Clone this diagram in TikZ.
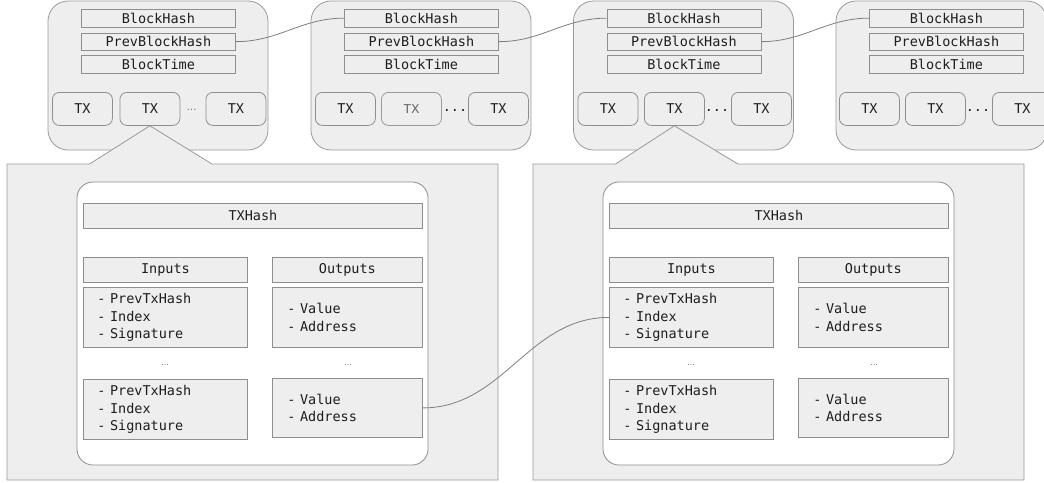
\documentclass[tikz,border=0pt]{standalone}
\usepackage{fontspec}
\newfontfamily\monof{DejaVu Sans Mono}
\newfontfamily\courf{Liberation Mono}
\newfontfamily\propf{DejaVu Sans}
\definecolor{bfill}{HTML}{EEEEEE}
\definecolor{bline}{HTML}{9A9A9A}
\definecolor{fline}{HTML}{8E8E8E}
\definecolor{cline}{HTML}{7E7E7E}
\definecolor{tcol}{HTML}{1E1E1E}
\tikzset{
  blockbox/.style={draw=bline, fill=bfill, rounded corners=20pt, line width=0.8pt},
  basebox/.style={draw=fline, fill=bfill, line width=0.8pt, inner sep=0pt, anchor=north west, text=tcol,
    font=\monof\fontsize{13.5}{17.7}\selectfont},
  fieldbox/.style={basebox, minimum width=154pt, minimum height=17.5pt},
  txbox/.style={basebox, rounded corners=7pt, minimum width=60pt, minimum height=33pt},
  txalt/.style={txbox, text=black!60, font=\courf\fontsize{13.5}{16}\selectfont, draw=bline},
  dotsa/.style={text=black!55, font=\propf\fontsize{10}{10}\selectfont, inner sep=0pt},
  dotsb/.style={text=tcol, font=\monof\fontsize{13.5}{16}\selectfont, inner sep=0pt},
  dotsp/.style={text=black!55, font=\propf\fontsize{8}{8}\selectfont, inner sep=0pt},
  panel/.style={draw=bline, fill=bfill, line width=0.8pt},
  innerbox/.style={draw=fline, fill=white, rounded corners=16pt, line width=0.8pt},
  headbox/.style={basebox, minimum height=25pt},
  contbox/.style={basebox, align=left, inner ysep=0pt},
  conn/.style={draw=cline, line width=0.8pt}
}
\begin{document}
\begin{tikzpicture}[x=1pt,y=-1pt]
\useasboundingbox (0,0) rectangle (1044,482);
\clip (0,0) rectangle (1044,482);

% ---------- blocks ----------
% block 1
\draw[blockbox] (48,1) rectangle (268,150);
\node[fieldbox] (b1bh) at (81,9) {BlockHash};
\node[fieldbox] (b1ph) at (81,32.5) {PrevBlockHash};
\node[fieldbox] (b1bt) at (81,55) {BlockTime};
\node[txbox] (b1tx1) at (52,92) {TX};
\node[txbox] (b1tx2) at (119.5,92) {TX};
\node[dotsa] (b1d) at (191.5,110) {…};
\node[txbox] (b1tx3) at (205.5,92) {TX};

% block 2
\draw[blockbox] (311,1) rectangle (531,150);
\node[fieldbox] (b2bh) at (344,9) {BlockHash};
\node[fieldbox] (b2ph) at (344,32.5) {PrevBlockHash};
\node[fieldbox] (b2bt) at (344,55) {BlockTime};
\node[txbox] (b2tx1) at (315,92) {TX};
\node[txalt] (b2tx2) at (381,92) {TX};
\node[dotsb] (b2d) at (455,110) {...};
\node[txbox] (b2tx3) at (468,92) {TX};

% block 3
\draw[blockbox] (573.5,1) rectangle (793.5,150);
\node[fieldbox] (b3bh) at (606.5,9) {BlockHash};
\node[fieldbox] (b3ph) at (606.5,32.5) {PrevBlockHash};
\node[fieldbox] (b3bt) at (606.5,55) {BlockTime};
\node[txbox] (b3tx1) at (577.5,92) {TX};
\node[txbox] (b3tx2) at (644,92) {TX};
\node[dotsb] (b3d) at (717,110) {...};
\node[txbox] (b3tx3) at (731,92) {TX};

% block 4
\draw[blockbox] (836,1) rectangle (1047,150);
\node[fieldbox] (b4bh) at (869,9) {BlockHash};
\node[fieldbox] (b4ph) at (869,32.5) {PrevBlockHash};
\node[fieldbox] (b4bt) at (869,55) {BlockTime};
\node[txbox] (b4tx1) at (839,92) {TX};
\node[txbox] (b4tx2) at (905,92) {TX};
\node[dotsb] (b4d) at (978,110) {...};
\node[txbox] (b4tx3) at (992,92) {TX};

% chain links
\draw[conn] (b1ph.east) to[out=0,in=180] (b2bh.west);
\draw[conn] (b2ph.east) to[out=0,in=180] (b3bh.west);
\draw[conn] (b3ph.east) to[out=0,in=180] (b4bh.west);

% ---------- transaction panels ----------
\foreach \p/\dx/\ap in {1/0/b1tx2, 2/526/b3tx2} {
  \begin{scope}[xshift=\dx pt]
    \draw[panel] (7,164) -- (89.5,164) -- (\ap.south) -- (212,164) -- (498,164) -- (498,480) -- (7,480) -- cycle;
    \draw[innerbox] (77,182) rectangle (428,465);
    \node[headbox, minimum width=339pt] (p\p th) at (83,203) {TXHash};
    \node[headbox, minimum width=164pt] (p\p ih) at (83,257) {Inputs};
    \node[headbox, minimum width=150pt] (p\p oh) at (272,257) {Outputs};
    \node[contbox, inner xsep=14pt, text width=136pt, minimum height=60pt] (p\p i1) at (83,287)
      {- PrevTxHash\\- Index\\- Signature};
    \node[contbox, inner xsep=15pt, text width=120pt, minimum height=60pt] (p\p o1) at (272,287)
      {- Value\\- Address};
    \node[dotsp] (p\p d1) at (165,365) {…};
    \node[dotsp] (p\p d2) at (348,365) {…};
    \node[contbox, inner xsep=14pt, text width=136pt, minimum height=60pt] (p\p i2) at (83,379)
      {- PrevTxHash\\- Index\\- Signature};
    \node[contbox, inner xsep=15pt, text width=120pt, minimum height=59pt] (p\p o2) at (272,378)
      {- Value\\- Address};
  \end{scope}
}

% output -> input link
\draw[conn] (p1o2.east) to[out=0,in=180] (p2i1.west);
\end{tikzpicture}
\end{document}
